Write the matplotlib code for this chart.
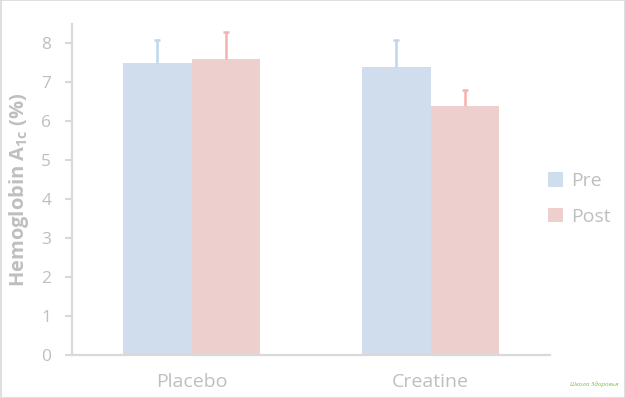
import matplotlib
matplotlib.use("Agg")
import matplotlib.pyplot as plt
from matplotlib.patches import Rectangle, Patch
import numpy as np

plt.rcParams['font.family'] = ['Open Sans', 'DejaVu Sans']
plt.rcParams['mathtext.default'] = 'regular'

categories = ["Placebo", "Creatine"]
series = ["Pre", "Post"]
pre_values = [7.5, 7.4]
post_values = [7.6, 6.4]
pre_err = [0.6, 0.7]
post_err = [0.7, 0.4]

bar_colors = ["#D0DDEC", "#EDD0CE"]
err_colors = ["#BDD7EE", "#F4B3B0"]
text_gray = "#BFBFBF"
axis_gray = "#D9D9D9"

fig = plt.figure(figsize=(6.25, 3.98), dpi=100)
ax = fig.add_axes([72/625, 1-355/398, (550-72)/625, (355-24)/398])

x = np.arange(len(categories))
w = 0.285
for i, (vals, errs) in enumerate([(pre_values, pre_err), (post_values, post_err)]):
    pos = x + (i - 0.5) * w
    ax.bar(pos, vals, width=w, color=bar_colors[i], label=series[i], zorder=2)
    eb = ax.errorbar(pos, vals, yerr=[np.zeros(len(errs)), errs], fmt='none',
                     ecolor=err_colors[i], elinewidth=1.8, capsize=2.5, capthick=1.8, zorder=3)
    eb[1][0].set_visible(False)

ax.set_xlim(-0.5, 1.5)
ax.set_ylim(0, 8.5)
ax.set_yticks(range(0, 9))
ax.set_xticks(x)
ax.set_xticklabels(categories, fontsize=14, color=text_gray)
ax.tick_params(axis='x', length=0, pad=13)
ax.tick_params(axis='y', length=5, width=1.5, color=axis_gray, labelsize=12.5,
               labelcolor=text_gray, pad=10)
for s in ['top', 'right']:
    ax.spines[s].set_visible(False)
for s in ['left', 'bottom']:
    ax.spines[s].set_color(axis_gray)
    ax.spines[s].set_linewidth(1.6)

fig.text(19/625, 1-190/398, "Hemoglobin A$_{1c}$ (%)", rotation=90, ha='center', va='center',
         fontsize=14.5, fontweight='bold', color=text_gray)

handles = [Patch(facecolor=c, edgecolor='none') for c in bar_colors]
leg = fig.legend(handles, series, loc='center left', bbox_to_anchor=(548/625, 1-199/398),
                 frameon=False, fontsize=14, handlelength=0.75, handleheight=0.75,
                 handletextpad=0.45, labelspacing=0.9, borderpad=0, borderaxespad=0)
for t in leg.get_texts():
    t.set_color(text_gray)

fig.text(0.99, 0.035, "Школа Здоровья", fontsize=4.5, color="#7AC142", ha='right', va='center',
         style='italic')

fig.patches.append(Rectangle((0.0008, 0.0012), 0.9984, 0.9976, transform=fig.transFigure,
                             fill=False, edgecolor=axis_gray, linewidth=1.2))

fig.savefig("out.png", dpi=100)
